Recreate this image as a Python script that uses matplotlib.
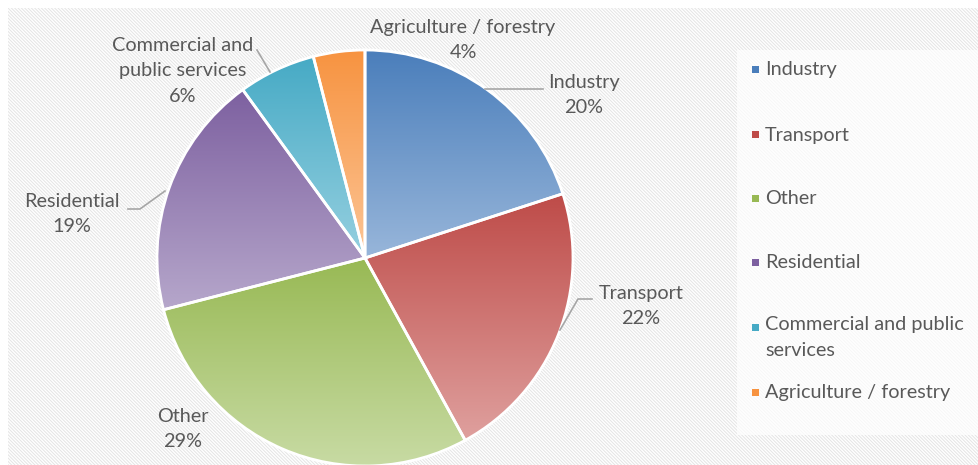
import numpy as np
import matplotlib
matplotlib.use("Agg")
import matplotlib.pyplot as plt
from matplotlib.patches import Rectangle, Wedge
from matplotlib.colors import to_rgb

# ---- data ----
categories = ["Industry", "Transport", "Other", "Residential",
              "Commercial and public services", "Agriculture / forestry"]
shares = [20, 22, 29, 19, 6, 4]
pie_labels = ["Industry\n20%", "Transport\n22%", "Other\n29%", "Residential\n19%",
              "Commercial and\npublic services\n6%", "Agriculture / forestry\n4%"]
legend_labels = ["Industry", "Transport", "Other", "Residential",
                 "Commercial and public\nservices", "Agriculture / forestry"]
top_colors = ["#4a7ebb", "#be4b48", "#98b954", "#7d60a0", "#46aac5", "#f79340"]
bottom_colors = ["#98b6da", "#dfa09e", "#c8dba4", "#b6a7cb", "#96d0e0", "#fcc596"]

W, H = 979, 465
plt.rcParams['hatch.linewidth'] = 0.7
fig = plt.figure(figsize=(W / 100, H / 100), dpi=100)
ax = fig.add_axes([0, 0, 1, 1])

def Y(v):
    return H - v

FONT = "Lato"
TXT = "#595959"
FS = 14.3
LS = 1.62

# background with diagonal hatch
bg = Rectangle((8, 0), W - 8, Y(8), facecolor="white", edgecolor="#e4e4e4",
               hatch="\\" * 10, linewidth=0, zorder=0)
ax.add_patch(bg)
# legend panel
lg = Rectangle((737, Y(435)), W - 737, 385, facecolor="white", edgecolor="#f7f7f7",
               hatch="\\" * 10, linewidth=0, zorder=0.5)
ax.add_patch(lg)

cx, cy, R = 365, Y(258), 208
wedges, _ = ax.pie(shares, startangle=90, counterclock=False, center=(cx, cy),
                   radius=R, colors=top_colors, frame=True,
                   wedgeprops=dict(linewidth=0, zorder=1))
ax.set_xlim(0, W)
ax.set_ylim(0, H)
ax.axis("off")
ax.set_aspect("equal")

for w, ct, cb in zip(wedges, top_colors, bottom_colors):
    verts = w.get_path().vertices
    y0, y1 = verts[:, 1].min(), verts[:, 1].max()
    x0, x1 = verts[:, 0].min(), verts[:, 0].max()
    t = np.linspace(0, 1, 256)[:, None]
    a, b = np.array(to_rgb(cb)), np.array(to_rgb(ct))
    img = (a[None, :] * (1 - t) + b[None, :] * t)[:, None, :]
    im = ax.imshow(img, extent=(x0, x1, y0, y1), origin="lower", aspect="auto",
                   interpolation="bilinear", zorder=2)
    im.set_clip_path(w)
    ed = Wedge(w.center, w.r, w.theta1, w.theta2, facecolor="none",
               edgecolor="white", linewidth=2, zorder=3)
    ax.add_patch(ed)

# data labels (text block centres in pixel coords of the image)
label_pos = [(584, 95), (641, 306), (183, 429), (72, 214), (183, 71), (463, 40)]
for txt, (lx, ly) in zip(pie_labels, label_pos):
    ax.text(lx, Y(ly), txt, ha="center", va="center", fontsize=FS,
            family=FONT, color=TXT, linespacing=LS, zorder=5)

# leader lines
leaders = [
    [(485, 89), (543, 89)],
    [(560, 330), (578, 299), (592, 299)],
    [(165, 191), (140, 209), (128, 209)],
    [(270, 72), (257, 50)],
]
for pts in leaders:
    xs = [p[0] for p in pts]
    ys = [Y(p[1]) for p in pts]
    ax.plot(xs, ys, color="#a6a6a6", lw=1.2, zorder=4)

# legend
leg_y = [70, 135, 199, 263, 327, 392]
for lab, col, ly in zip(legend_labels, top_colors, leg_y):
    ax.add_patch(Rectangle((752, Y(ly) - 3.5), 7, 7, facecolor=col,
                           edgecolor="none", zorder=5))
    if "\n" in lab:
        ax.text(765, Y(ly) + 11, lab, ha="left", va="top", fontsize=FS,
                family=FONT, color=TXT, linespacing=LS, zorder=5)
    else:
        ax.text(765, Y(ly), lab, ha="left", va="center", fontsize=FS,
                family=FONT, color=TXT, zorder=5)

fig.savefig("out.png", dpi=100)
